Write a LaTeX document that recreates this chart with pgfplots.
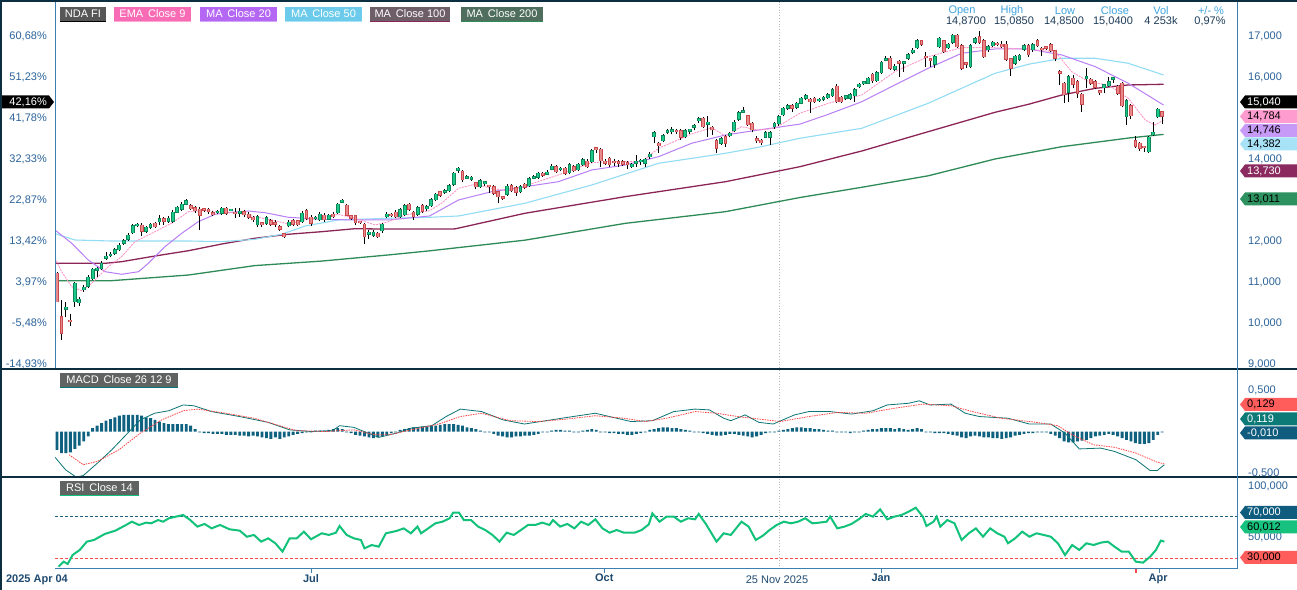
\documentclass[border=0pt]{standalone}
\usepackage{pgfplots}
\pgfplotsset{compat=1.18}
\usepackage{pgfplotstable}
\usepackage{fontspec}
\setmainfont{Liberation Sans}
\newcommand\f{\fontsize{11bp}{13bp}\selectfont}
\definecolor{navy}{HTML}{0B2E40}
\definecolor{axblue}{HTML}{3D7FAE}
\definecolor{lblblue}{HTML}{2B6399}
\definecolor{datecol}{HTML}{1F4A70}
\definecolor{hdrlab}{HTML}{3FA4DD}
\definecolor{hdrval}{HTML}{1D3B57}
\definecolor{upfill}{HTML}{1DC98A}
\definecolor{upline}{HTML}{0E8457}
\definecolor{dnfill}{HTML}{E8898B}
\definecolor{dnline}{HTML}{C9484C}
\definecolor{ema}{HTML}{FF94C8}
\definecolor{ma20}{HTML}{B97EF5}
\definecolor{ma50}{HTML}{92DCF4}
\definecolor{ma100}{HTML}{8C2557}
\definecolor{ma200}{HTML}{2E8B57}
\definecolor{histc}{HTML}{0E6280}
\definecolor{macdc}{HTML}{0B7474}
\definecolor{sigc}{HTML}{FF4444}
\definecolor{rsic}{HTML}{12C27A}
\definecolor{rsi70}{HTML}{1F5F80}
\definecolor{rsi30}{HTML}{FF4B4B}
\definecolor{boxgrey}{HTML}{5F6361}
\definecolor{lgA}{HTML}{F76CB4}\definecolor{lgAu}{HTML}{FFA6D3}
\definecolor{lgB}{HTML}{B467F2}\definecolor{lgBu}{HTML}{D1A5F8}
\definecolor{lgC}{HTML}{6CCBEB}\definecolor{lgCu}{HTML}{A9E2F5}
\definecolor{lgD}{HTML}{6E5E68}
\definecolor{lgE}{HTML}{4F6E5D}
\definecolor{tgA}{HTML}{FF9CCF}
\definecolor{tgB}{HTML}{C79AF7}
\definecolor{tgC}{HTML}{A7E2F7}
\definecolor{tgD}{HTML}{8B2A5E}
\definecolor{tgE}{HTML}{2E9160}
\definecolor{tgF}{HTML}{FF5C5C}
\definecolor{tgG}{HTML}{0C7B78}
\definecolor{tgH}{HTML}{0F5C7E}
\definecolor{tgI}{HTML}{17C27E}

\pgfplotstableread{
i o h l c
0 11210 11250 10500 10520
1 10154 10561 9585 9749
2 10335 10520 10154 10383
3 10073 10212 9934 10032
4 10520 11007 10398 10968
5 10495 10642 10415 10578
6 10805 10930 10760 10871
7 10902 11160 10860 11115
8 11080 11350 11040 11310
9 11290 11370 11130 11340
10 11324 11500 11290 11456
11 11578 11740 11540 11634
12 11640 11720 11600 11670
13 11700 11830 11660 11781
14 11781 11950 11750 11902
15 11944 12050 11900 12007
16 12041 12190 12000 12146
17 12202 12420 12170 12366
18 12370 12440 12330 12400
19 12383 12440 12120 12237
20 12237 12370 12200 12334
21 12334 12450 12300 12407
22 12432 12470 12320 12349
23 12471 12630 12390 12537
24 12537 12580 12400 12480
25 12480 12600 12450 12554
26 12480 12750 12450 12707
27 12700 12860 12680 12822
28 12773 12940 12740 12895
29 12895 13020 12870 12976
30 12854 12900 12750 12788
31 12805 12850 12690 12739
32 12773 12840 12268 12627
33 12760 12800 12700 12750
34 12773 12810 12670 12707
35 12690 12720 12600 12641
36 12690 12760 12660 12724
37 12676 12840 12640 12797
38 12797 12840 12630 12676
39 12740 12790 12720 12756
40 12670 12810 12560 12660
41 12680 12810 12590 12690
42 12715 12760 12590 12634
43 12658 12700 12540 12578
44 12585 12620 12470 12512
45 12390 12630 12350 12593
46 12430 12460 12330 12400
47 12432 12610 12400 12568
48 12488 12530 12370 12407
49 12420 12500 12340 12410
50 12349 12390 12250 12285
51 12171 12200 12080 12105
52 12366 12500 12330 12463
53 12495 12530 12370 12407
54 12488 12520 12360 12398
55 12471 12720 12440 12676
56 12739 12790 12520 12553
57 12585 12630 12360 12432
58 12540 12600 12500 12560
59 12512 12700 12480 12651
60 12634 12680 12470 12512
61 12529 12670 12500 12627
62 12658 12700 12560 12593
63 12690 12930 12660 12895
64 12950 13030 12920 12990
65 12871 12900 12600 12627
66 12610 12640 12520 12554
67 12610 12640 12380 12446
68 12470 12490 12410 12440
69 12407 12440 11927 12105
70 12170 12260 12050 12200
71 12138 12260 12100 12219
72 12186 12220 12070 12105
73 12244 12440 12200 12407
74 12593 12700 12560 12651
75 12651 12690 12580 12610
76 12707 12750 12560 12593
77 12593 12800 12560 12756
78 12634 12890 12600 12854
79 12902 12930 12740 12773
80 12700 12740 12520 12593
81 12658 12850 12620 12805
82 12854 12890 12690 12724
83 12790 12870 12740 12822
84 12854 13040 12820 13000
85 13000 13180 12970 13139
86 13195 13230 13080 13115
87 13190 13260 13150 13220
88 13227 13390 13190 13349
89 13383 13690 13350 13651
90 13730 13800 13650 13740
91 13707 13740 13450 13488
92 13530 13600 13500 13560
93 13510 13580 13470 13540
94 13415 13450 13260 13324
95 13324 13510 13290 13471
96 13400 13460 13340 13420
97 13330 13370 13160 13320
98 13324 13360 13120 13163
99 13195 13230 12920 13081
100 13060 13090 13000 13040
101 13139 13380 13100 13341
102 13349 13400 13190 13227
103 13300 13340 13100 13188
104 13202 13360 13160 13324
105 13390 13420 13280 13310
106 13349 13560 13310 13519
107 13530 13610 13500 13560
108 13553 13690 13520 13651
109 13651 13690 13570 13602
110 13627 13720 13600 13676
111 13749 13870 13720 13829
112 13812 13860 13660 13690
113 13740 13800 13700 13760
114 13773 13810 13620 13651
115 13666 13890 13630 13854
116 13812 13850 13680 13715
117 13732 13910 13700 13871
118 13854 14020 13820 13976
119 13951 13990 13780 13812
120 13927 14240 13890 14202
121 14240 14300 14150 14230
122 14237 14270 13800 13951
123 13951 13990 13860 13895
124 14017 14060 13800 13854
125 13920 13990 13830 13910
126 13900 13980 13810 13890
127 13934 13970 13840 13871
128 13910 13940 13750 13854
129 13812 13900 13790 13871
130 13900 14105 13810 13910
131 13930 13990 13860 13940
132 13895 14030 13800 13993
133 14056 14160 13990 14115
134 14544 14690 14380 14641
135 14383 14420 14150 14317
136 14446 14600 14410 14561
137 14650 14720 14620 14680
138 14670 14780 14600 14700
139 14690 14720 14620 14659
140 14690 14730 14460 14529
141 14544 14720 14500 14683
142 14680 14740 14620 14690
143 14770 14850 14700 14800
144 14927 15030 14880 14983
145 14993 15030 14760 14788
146 14850 15050 14540 14880
147 14773 14810 14580 14707
148 14439 14480 14150 14261
149 14383 14530 14350 14488
150 14544 14580 14300 14383
151 14561 14670 14530 14627
152 14683 14940 14650 14902
153 14968 15170 14930 15129
154 15140 15270 15110 15170
155 15049 15080 14800 14829
156 14870 14900 14650 14707
157 14488 14560 14400 14439
158 14463 14490 14330 14398
159 14529 14680 14500 14641
160 14529 14680 14350 14641
161 14788 14910 14740 14870
162 14854 15080 14810 15032
163 15073 15280 15040 15237
164 15237 15330 15200 15293
165 15293 15330 15150 15237
166 15261 15400 15230 15358
167 15358 15520 15330 15480
168 15480 15580 15450 15537
169 15463 15490 15120 15398
170 15480 15510 15370 15398
171 15420 15490 15390 15450
172 15460 15530 15420 15490
173 15495 15610 15460 15561
174 15544 15720 15510 15683
175 15780 15820 15370 15398
176 15505 15530 15360 15398
177 15480 15570 15450 15537
178 15480 15600 15450 15561
179 15537 15720 15390 15683
180 15763 15860 15730 15822
181 15840 15890 15800 15850
182 15846 16010 15820 15968
183 16066 16100 15860 15902
184 15910 16140 15880 16098
185 16105 16400 16070 16359
186 16410 16500 16380 16440
187 16456 16500 16180 16212
188 16188 16310 16150 16268
189 16350 16420 16000 16340
190 16330 16400 16130 16360
191 16456 16580 16420 16537
192 16602 16700 16560 16651
193 16715 16920 16680 16878
194 16878 16910 16760 16798
195 16500 16617 16251 16470
196 16430 16460 16250 16400
197 16310 16530 16220 16495
198 16739 16980 16710 16944
199 16878 16910 16590 16617
200 16715 16840 16680 16798
201 16846 17060 16810 17024
202 17024 17060 16700 16739
203 16763 16800 16170 16212
204 16320 16370 16210 16310
205 16251 16800 16210 16763
206 16846 16970 16800 16927
207 16983 17120 16810 16846
208 16885 16920 16470 16495
209 16659 16770 16620 16732
210 16763 16880 16730 16846
211 16822 16850 16750 16781
212 16798 16870 16710 16739
213 16798 16880 16400 16432
214 16439 16470 16030 16212
215 16334 16540 16300 16505
216 16432 16560 16400 16529
217 16676 16800 16640 16756
218 16756 16800 16490 16537
219 16659 16820 16620 16781
220 16878 16920 16720 16756
221 16700 16730 16500 16659
222 16710 16740 16660 16700
223 16781 16830 16600 16634
224 16634 16670 16380 16456
225 16130 16170 15805 16090
226 15846 15880 15365 15561
227 15627 16060 15400 16007
228 15968 16050 15720 15822
229 15885 15920 15490 15603
230 15578 15610 15140 15334
231 15960 16220 15730 15990
232 15944 15980 15810 15846
233 15885 15920 15700 15749
234 15640 15670 15560 15620
235 15739 15840 15600 15805
236 15780 15990 15750 15885
237 15940 16010 15860 15970
238 15780 15810 15570 15603
239 15846 15880 15260 15300
240 15032 15460 14829 15415
241 15293 15330 14970 15056
242 14439 14560 14270 14310
243 14383 14420 14200 14261
244 14290 14310 14170 14270
245 14178 14570 14150 14529
246 14585 14890 14560 14651
247 15032 15250 14990 15212
248 15150 15180 14850 15040
}\candles

\pgfplotsset{
  base/.style={scale only axis, width=1182bp, xmin=-0.45, xmax=264.8,
    axis line style={draw=none}, xtick=\empty, major tick length=0pt,
    tick style={draw=none}, scaled y ticks=false, scaled x ticks=false,
    tick label style={font=\f, text=lblblue},
    /pgf/number format/assume math mode=true},
  rlab/.style={yticklabel pos=right, yticklabel style={anchor=west, inner sep=0pt, xshift=11bp}},
  wick/.style={draw=none, forget plot, error bars/.cd, y dir=plus, y explicit, error mark=none,
    error bar style={draw=black, solid, line width=1bp}},
}
\newcommand\tagR[4]{%
  \fill[#2] (1240,{590-#1}) -- (1245,{590-#1+6.5}) -- (1297,{590-#1+6.5}) -- (1297,{590-#1-6.5}) -- (1245,{590-#1-6.5}) -- cycle;
  \node[anchor=west, inner sep=0pt, text=#3, font=\f] at (1247,{590-#1}) {#4};}
\newcommand\legbox[5]{%
  \fill[#3] (#1,583) rectangle (#2,569);
  \fill[#4] (#1,569) rectangle (#2,567.5);
  \node[text=white, font=\f, inner sep=0pt] at ({(#1+#2)/2},576) {#5};}

\begin{document}
\begin{tikzpicture}[x=1bp,y=1bp]
\fill[white] (0,0) rectangle (1297,590);
\draw[gray!55, dotted, line width=0.8bp] (779,21) -- (779,588);

% ---------------- main price panel
\begin{axis}[base, rlab, at={(55bp,222bp)}, anchor=south west, height=364bp,
  ymin=8902.5, ymax=17780.4, ytick={9000,10000,...,17000},
  /pgf/number format/fixed, /pgf/number format/precision=0, /pgf/number format/1000 sep={,}]
\addplot[ma200, line width=1.3bp] coordinates {(-0.45,11030) (12,11030) (29.5,11170) (44.4,11400) (59.4,11510) (74.4,11660) (83.6,11760) (105,12020) (127.5,12430) (150,12715) (166.7,13060) (180.6,13310) (195.5,13590) (210.5,14000) (225.5,14300) (240.4,14510) (248.3,14600)};
\addplot[ma100, line width=1.3bp] coordinates {(-0.45,11456) (10.8,11456) (14.5,11495) (22,11634) (29.5,11763) (37,11927) (44.4,12066) (51.9,12164) (59.4,12227) (66.9,12300) (74.4,12290) (83.6,12290) (89.3,12295) (105,12676) (127.5,13081) (150,13446) (166.7,13812) (180.6,14195) (195.5,14666) (210.5,15139) (218,15334) (225.5,15561) (233,15724) (240.4,15805) (248.3,15822)};
\addplot[ma50, line width=1.1bp] coordinates {(-0.45,12180) (4,12024) (12,12000) (29.5,12000) (37,11983) (44.4,12041) (50.4,12164) (55.7,12366) (63.1,12512) (74.4,12554) (83.6,12578) (90.1,12610) (105,12920) (120,13366) (135,13895) (150,14139) (157.4,14285) (166.7,14505) (180.6,14749) (195.5,15359) (210.5,16090) (218,16310) (225.5,16456) (233,16456) (240.4,16334) (248.3,16049)};
\addplot[ma20, line width=1bp] coordinates {(-0.45,12268) (3.3,11944) (7.0,11537) (10.8,11251) (14.5,11188) (18.3,11251) (20.5,11456) (24.2,11861) (28,12188) (31.7,12471) (35.5,12651) (39.2,12700) (42.9,12732) (46.7,12690) (51.9,12578) (59.4,12529) (66.9,12512) (74.4,12512) (83.6,12610) (90.1,13000) (97.5,13202) (105,13324) (112.5,13446) (120,13732) (127.5,13854) (135,14056) (142.4,14383) (150,14585) (157.4,14707) (166.7,14850) (173.1,15090) (180.6,15397) (188,15805) (195.5,16212) (203,16578) (210.5,16683) (218,16683) (225.5,16537) (233,16251) (240.4,15846) (248.3,15317)};
\addplot[ema, line width=0.9bp, dash pattern=on 2bp off 1bp] coordinates {(-0.45,11578) (1.05,11251) (3.3,10885) (5.5,10788) (7.8,10968) (11.5,11373) (14.5,11617) (17.5,11983) (22,12227) (25.7,12432) (29.5,12715) (33.2,12739) (37,12715) (40.7,12676) (44.4,12593) (48.2,12512) (51.9,12415) (55.7,12512) (59.4,12578) (63.1,12651) (66.9,12554) (71.4,12390) (74.4,12471) (78.1,12634) (83.6,12739) (86.3,12920) (90.1,13285) (93.8,13383) (97.5,13285) (101.3,13220) (105,13342) (112.5,13610) (120,13910) (123.7,13934) (131.2,13934) (135,14261) (142.4,14610) (146.9,14764) (150,14561) (153.6,14788) (157.4,14707) (161.1,14749) (166.7,15115) (173.1,15359) (180.6,15561) (188,16129) (195.5,16495) (203,16715) (210.5,16715) (218,16676) (224,16617) (227.7,16129) (231.5,15885) (236,15805) (240.4,15480) (244.2,14951) (246.4,14829) (248.3,14951)};
% wicks
\addplot[wick] table[x=i, y=l, y error plus expr={\thisrow{h}-\thisrow{l}}] {\candles};
% up bodies
\addplot[draw=none, forget plot, restrict expr to domain={\thisrow{c}-\thisrow{o}}{0:100000},
  error bars/.cd, y dir=plus, y explicit, error mark=none, error bar style={draw=upline, solid, line width=3.8bp}]
  table[x=i, y expr={min(\thisrow{o},\thisrow{c})-12}, y error plus expr={max(abs(\thisrow{c}-\thisrow{o}),40)+24}] {\candles};
\addplot[draw=none, forget plot, restrict expr to domain={\thisrow{c}-\thisrow{o}}{0:100000},
  error bars/.cd, y dir=plus, y explicit, error mark=none, error bar style={draw=upfill, solid, line width=1.8bp}]
  table[x=i, y expr={min(\thisrow{o},\thisrow{c})}, y error plus expr={max(abs(\thisrow{c}-\thisrow{o}),40)}] {\candles};
% down bodies
\addplot[draw=none, forget plot, restrict expr to domain={\thisrow{c}-\thisrow{o}}{-100000:-0.5},
  error bars/.cd, y dir=plus, y explicit, error mark=none, error bar style={draw=dnline, solid, line width=3.8bp}]
  table[x=i, y expr={min(\thisrow{o},\thisrow{c})-12}, y error plus expr={max(abs(\thisrow{c}-\thisrow{o}),40)+24}] {\candles};
\addplot[draw=none, forget plot, restrict expr to domain={\thisrow{c}-\thisrow{o}}{-100000:-0.5},
  error bars/.cd, y dir=plus, y explicit, error mark=none, error bar style={draw=dnfill, solid, line width=1.8bp}]
  table[x=i, y expr={min(\thisrow{o},\thisrow{c})}, y error plus expr={max(abs(\thisrow{c}-\thisrow{o}),40)}] {\candles};
\end{axis}

% left percent labels
\begin{axis}[base, at={(55bp,222bp)}, anchor=south west, height=364bp,
  ymin=8902.5, ymax=17780.4, ytick={9000,10000,...,17000},
  yticklabels={{-14,93\%},{-5,48\%},{3,97\%},{13,42\%},{22,87\%},{32,33\%},{41,78\%},{51,23\%},{60,68\%}},
  yticklabel pos=left, yticklabel style={anchor=east, inner sep=0pt, xshift=-8bp}]
\addplot[draw=none] coordinates {(0,10000)};
\end{axis}

% ---------------- MACD panel
\begin{axis}[base, rlab, at={(55bp,114bp)}, anchor=south west, height=106bp,
  ymin=-0.536, ymax=0.741, ytick={-0.5,0.5},
  /pgf/number format/fixed, /pgf/number format/fixed zerofill, /pgf/number format/precision=3, /pgf/number format/dec sep={,}]
\addplot[ybar, bar width=2.9bp, fill=histc, draw=none] coordinates {(0,-0.22) (1,-0.26) (2,-0.26) (3,-0.25) (4,-0.21) (5,-0.17) (6,-0.12) (7,-0.06) (8,0.04) (9,0.07) (10,0.10) (11,0.13) (12,0.15) (13,0.17) (14,0.19) (15,0.20) (16,0.20) (17,0.20) (18,0.20) (19,0.19) (20,0.17) (21,0.16) (22,0.14) (23,0.12) (24,0.10) (25,0.09) (26,0.09) (27,0.09) (28,0.09) (29,0.09) (30,0.07) (31,0.03) (32,-0.01) (33,-0.02) (34,-0.02) (35,-0.03) (36,-0.03) (37,-0.03) (38,-0.04) (39,-0.04) (40,-0.04) (41,-0.05) (42,-0.05) (43,-0.06) (44,-0.05) (45,-0.06) (46,-0.07) (47,-0.08) (48,-0.09) (49,-0.07) (50,-0.09) (51,-0.07) (52,-0.06) (53,-0.04) (54,-0.03) (55,-0.02) (56,-0.01) (57,-0.01) (58,0.01) (59,0.01) (60,0.01) (61,0.02) (62,0.03) (63,0.04) (64,0.03) (65,-0.01) (66,-0.02) (67,-0.04) (68,-0.05) (69,-0.06) (70,-0.07) (71,-0.08) (72,-0.07) (73,-0.06) (74,-0.04) (75,-0.02) (76,-0.01) (77,0.02) (78,0.03) (79,0.04) (80,0.05) (81,0.05) (82,0.06) (83,0.06) (84,0.07) (85,0.07) (86,0.08) (87,0.09) (88,0.09) (89,0.09) (90,0.08) (91,0.07) (92,0.05) (93,0.04) (94,0.03) (95,0.01) (96,-0.01) (97,-0.01) (98,-0.03) (99,-0.05) (100,-0.06) (101,-0.07) (102,-0.07) (103,-0.06) (104,-0.06) (105,-0.05) (106,-0.05) (107,-0.04) (108,-0.03) (109,-0.01) (110,-0.01) (111,0.01) (112,0.02) (113,0.02) (114,0.01) (115,0.01) (116,-0.01) (117,-0.01) (118,0.01) (119,0.02) (120,0.03) (121,0.02) (122,-0.01) (123,-0.01) (124,-0.02) (125,-0.02) (126,-0.03) (127,-0.03) (128,-0.04) (129,-0.04) (130,-0.03) (131,-0.02) (132,-0.01) (133,0.02) (134,0.03) (135,0.04) (136,0.05) (137,0.05) (138,0.04) (139,0.04) (140,0.03) (141,0.02) (142,0.01) (143,-0.01) (144,-0.01) (145,-0.02) (146,-0.03) (147,-0.04) (148,-0.05) (149,-0.05) (150,-0.04) (151,-0.03) (152,-0.03) (153,-0.04) (154,-0.05) (155,-0.06) (156,-0.07) (157,-0.06) (158,-0.04) (159,-0.02) (160,-0.01) (161,-0.01) (162,0.01) (163,0.02) (164,0.03) (165,0.04) (166,0.05) (167,0.05) (168,0.04) (169,0.04) (170,0.03) (171,0.03) (172,0.02) (173,0.01) (174,0.01) (175,-0.01) (176,-0.01) (177,-0.01) (178,-0.02) (179,-0.01) (180,-0.01) (181,0.01) (182,0.02) (183,0.03) (184,0.03) (185,0.04) (186,0.04) (187,0.04) (188,0.03) (189,0.04) (190,0.03) (191,0.02) (192,0.03) (193,0.04) (194,0.03) (195,-0.01) (196,-0.01) (197,-0.02) (198,-0.02) (199,-0.02) (200,-0.03) (201,-0.04) (202,-0.05) (203,-0.07) (204,-0.08) (205,-0.06) (206,-0.05) (207,-0.06) (208,-0.07) (209,-0.07) (210,-0.08) (211,-0.08) (212,-0.09) (213,-0.08) (214,-0.07) (215,-0.05) (216,-0.04) (217,-0.03) (218,-0.02) (219,-0.02) (220,-0.01) (221,-0.01) (222,-0.01) (223,-0.03) (224,-0.05) (225,-0.08) (226,-0.12) (227,-0.13) (228,-0.13) (229,-0.12) (230,-0.11) (231,-0.10) (232,-0.08) (233,-0.06) (234,-0.05) (235,-0.04) (236,-0.03) (237,-0.04) (238,-0.06) (239,-0.08) (240,-0.10) (241,-0.12) (242,-0.14) (243,-0.15) (244,-0.15) (245,-0.14) (246,-0.10) (247,-0.04) (248,-0.01)};
\addplot[macdc, line width=0.8bp] coordinates {(-0.45,-0.31) (1.9,-0.46) (4.3,-0.55) (5.9,-0.53) (9.1,-0.38) (12.3,-0.22) (15.5,-0.04) (18.7,0.14) (21.9,0.22) (25.1,0.25) (28.3,0.32) (30.7,0.31) (34.7,0.24) (41.0,0.18) (47.4,0.11) (52.2,0.02) (57.0,0.0) (61.8,0.01) (63.4,0.07) (66.6,0.05) (69.8,-0.02) (72.2,-0.07) (76.2,-0.02) (79.4,0.04) (84.1,0.07) (87.3,0.18) (90.5,0.27) (95.3,0.24) (100.1,0.14) (104.9,0.09) (109.7,0.13) (114.5,0.17) (120.8,0.22) (124.0,0.18) (128.8,0.12) (133.6,0.13) (138.4,0.24) (143.2,0.27) (146.4,0.26) (149.6,0.16) (151.2,0.13) (154.4,0.20) (157.5,0.11) (160.7,0.09) (165.5,0.20) (168.7,0.24) (173.5,0.24) (178.3,0.21) (183.1,0.25) (186.3,0.32) (191.1,0.34) (193.5,0.37) (195.9,0.32) (200.6,0.33) (203.8,0.22) (207.0,0.18) (213.4,0.16) (218.2,0.09) (223.0,0.09) (226.2,-0.02) (229.4,-0.21) (234.2,-0.20) (237.3,-0.24) (242.1,-0.34) (245.3,-0.47) (246.9,-0.47) (248.5,-0.40)};
\addplot[sigc, line width=0.8bp, dash pattern=on 1.5bp off 1bp] coordinates {(2.7,-0.28) (5.9,-0.40) (9.1,-0.36) (13.9,-0.22) (18.7,-0.02) (23.5,0.14) (28.3,0.25) (31.5,0.27) (37.9,0.22) (44.2,0.16) (50.6,0.06) (53.8,0.01) (60.2,0.0) (66.6,0.02) (71.4,-0.04) (74.6,-0.04) (79.4,0.02) (85.7,0.09) (90.5,0.18) (95.3,0.22) (101.7,0.13) (108.1,0.12) (114.5,0.15) (120.8,0.19) (127.2,0.16) (132.0,0.12) (136.8,0.16) (143.2,0.24) (148.0,0.22) (152.8,0.18) (159.1,0.14) (162.3,0.12) (168.7,0.18) (175.1,0.23) (181.5,0.22) (187.9,0.28) (194.3,0.33) (200.6,0.31) (205.4,0.24) (211.8,0.16) (219.8,0.11) (224.6,0.07) (227.8,-0.04) (232.6,-0.16) (237.3,-0.19) (242.1,-0.26) (246.9,-0.37) (248.5,-0.39)};
\end{axis}

% ---------------- RSI panel
\begin{axis}[base, rlab, at={(55bp,21bp)}, anchor=south west, height=90bp,
  ymin=19.3, ymax=106.8, ytick={50,100},
  /pgf/number format/fixed, /pgf/number format/fixed zerofill, /pgf/number format/precision=3, /pgf/number format/dec sep={,},
  xtick={57,122.8,184.9,247.1}, xticklabels={Jul,Oct,Jan,Apr},
  xticklabel style={anchor=north, inner sep=0pt, yshift=-5bp, font=\f\bfseries, text=datecol}]
\addplot[rsi70, line width=0.9bp, dash pattern=on 3bp off 2bp] coordinates {(-0.45,70) (264.8,70)};
\addplot[rsi30, line width=0.9bp, dash pattern=on 3bp off 2bp] coordinates {(-0.45,30) (264.8,30)};
\addplot[rsic, line width=2bp] coordinates {(0.35,21.6) (1.5,26.4) (2.4,24.2) (3.5,32.9) (5.1,37.8) (6.7,45.9) (8.3,47.5) (10.7,53.3) (13.1,56.6) (15.5,62.1) (16.8,65.3) (18.4,62.1) (20.0,64.4) (21.1,63.7) (22.7,66.9) (23.8,65.3) (25.1,68.6) (26.7,70.2) (28.3,71.8) (29.9,66.9) (31.5,60.5) (33.1,63.1) (34.7,58.8) (36.6,62.1) (38.7,57.9) (41.0,56.6) (42.6,50.7) (44.2,52.4) (45.8,45.9) (47.4,49.1) (49.0,44.3) (50.6,36.2) (52.2,49.1) (53.8,49.1) (55.4,55.6) (57.0,48.2) (59.4,54.0) (61.0,52.4) (62.6,54.6) (63.4,61.1) (65.0,52.4) (66.6,49.1) (68.2,47.5) (69.0,39.4) (70.6,42.6) (72.2,41.0) (73.8,54.0) (76.2,56.3) (77.8,58.8) (79.4,54.0) (80.9,60.5) (81.7,54.0) (83.3,58.8) (84.9,63.7) (86.5,65.3) (88.1,68.6) (88.9,74.1) (90.2,74.1) (91.3,66.9) (92.9,66.9) (94.5,60.5) (96.1,57.2) (97.7,52.4) (99.3,45.9) (100.9,54.6) (102.5,52.4) (104.1,57.2) (105.7,62.1) (107.3,62.1) (108.9,64.4) (110.5,62.1) (111.3,66.9) (112.9,60.5) (114.5,63.1) (116.1,58.8) (117.6,65.3) (119.2,62.1) (120.8,67.6) (122.4,58.8) (124.0,54.6) (125.6,57.2) (127.2,54.6) (129.6,54.6) (131.2,57.2) (132.8,62.7) (133.6,73.4) (135.2,65.3) (136.8,70.2) (138.4,70.2) (140.0,65.3) (141.6,68.6) (143.2,67.6) (144.0,72.8) (145.6,63.1) (148.0,45.9) (149.6,54.0) (151.2,52.4) (153.6,65.3) (155.2,60.5) (156.8,47.5) (158.4,51.7) (159.9,57.2) (161.5,62.1) (163.1,65.3) (164.7,63.7) (166.3,65.3) (167.9,68.6) (169.5,63.7) (171.1,64.4) (172.7,65.3) (173.5,70.2) (175.1,58.8) (176.7,60.5) (178.3,63.1) (179.9,67.6) (181.5,72.8) (183.1,70.2) (184.7,77.3) (186.3,67.6) (187.9,70.2) (189.5,71.8) (191.1,75.0) (192.7,78.9) (194.3,70.2) (195.1,61.1) (196.7,65.3) (197.4,70.2) (198.2,60.5) (199.8,66.9) (201.4,63.7) (203.0,47.5) (204.6,54.0) (206.2,58.8) (207.8,50.7) (209.4,58.8) (211.0,54.0) (212.6,50.7) (213.4,44.3) (215.0,49.1) (216.6,55.6) (218.2,50.7) (219.8,54.0) (221.4,52.4) (223.0,50.7) (224.6,44.3) (226.2,32.9) (227.8,42.6) (229.4,37.8) (231.0,44.3) (232.6,42.6) (234.2,44.9) (235.8,45.9) (237.3,41.0) (238.9,36.2) (240.5,36.2) (242.1,26.4) (243.7,25.5) (245.3,31.3) (246.6,37.8) (247.7,46.9) (248.5,45.9)};
\end{axis}

% frame, separators, axis lines
\fill[navy] (0,220) rectangle (1297,222);
\fill[navy] (0,112) rectangle (1297,114);
\fill[navy] (0,0) rectangle (2,590);
\fill[navy] (0,588.3) rectangle (1297,590);
\draw[axblue, line width=1bp] (55,222) -- (55,588);
\draw[axblue, line width=1bp] (1237.5,21) -- (1237.5,588);
\draw[axblue, line width=1bp] (55,21) -- (1237.5,21);
\foreach \xx in {311,604,881,1159} {\draw[axblue, line width=1bp] (\xx,21) -- (\xx,17);}
\draw[rsi30, line width=1.2bp] (1136,21) -- (1136,17);
\node[font=\f\bfseries, text=datecol, inner sep=0pt] at (37,10) {2025 Apr 04};
\node[font=\f, text=datecol, inner sep=0pt] at (777,10) {25 Nov 2025};

% legends
\legbox{60}{106}{black!66}{black}{NDA FI}
\legbox{114}{191}{lgA}{lgAu}{EMA\, Close 9}
\legbox{200}{277}{lgB}{lgBu}{MA\, Close 20}
\legbox{285}{362}{lgC}{lgCu}{MA\, Close 50}
\legbox{370}{450}{lgD}{ma100}{MA\, Close 100}
\legbox{461}{543}{lgE}{ma200}{MA\, Close 200}
\fill[boxgrey] (60,217) rectangle (178,203);
\fill[macdc] (60,203) rectangle (178,201.5);
\node[text=white, font=\f, inner sep=0pt] at (119,210) {MACD\, Close 26 12 9};
\fill[boxgrey] (60,109) rectangle (139,95);
\fill[rsic] (60,95) rectangle (139,93.5);
\node[text=white, font=\f, inner sep=0pt] at (99.5,102) {RSI\, Close 14};

% header
\foreach \xx/\tt in {962/Open,1012/High,1065/Low,1115/Close,1161/Vol,1211/{+/- \%}} {\node[font=\f, text=hdrlab, inner sep=0pt] at (\xx,579) {\tt};}
\foreach \xx/\tt in {966/{14,8700},1014/{15,0850},1064/{14,8500},1113/{15,0400},1161/{4 253k},1210/{0,97\%}} {\node[font=\f, text=hdrval, inner sep=0pt] at (\xx,569) {\tt};}

% value tags
\fill[black] (2,494.5) -- (49,494.5) -- (54,488) -- (49,481.5) -- (2,481.5) -- cycle;
\node[anchor=east, inner sep=0pt, text=white, font=\f] at (47,488) {42,16\%};
\tagR{102}{black}{white}{15,040}
\tagR{116.5}{tgA}{black}{14,784}
\tagR{130.5}{tgB}{black}{14,746}
\tagR{144}{tgC}{black}{14,382}
\tagR{171}{tgD}{white}{13,730}
\tagR{199}{tgE}{black}{13,011}
\tagR{404.5}{tgF}{black}{0,129}
\tagR{419}{tgG}{white}{0,119}
\tagR{433}{tgH}{white}{-0,010}
\tagR{512.5}{tgH}{white}{70,000}
\tagR{527}{tgI}{black}{60,012}
\tagR{557.5}{tgF}{black}{30,000}
\pgfresetboundingbox
\path[use as bounding box] (0,0) rectangle (1297,590);
\end{tikzpicture}
\end{document}
